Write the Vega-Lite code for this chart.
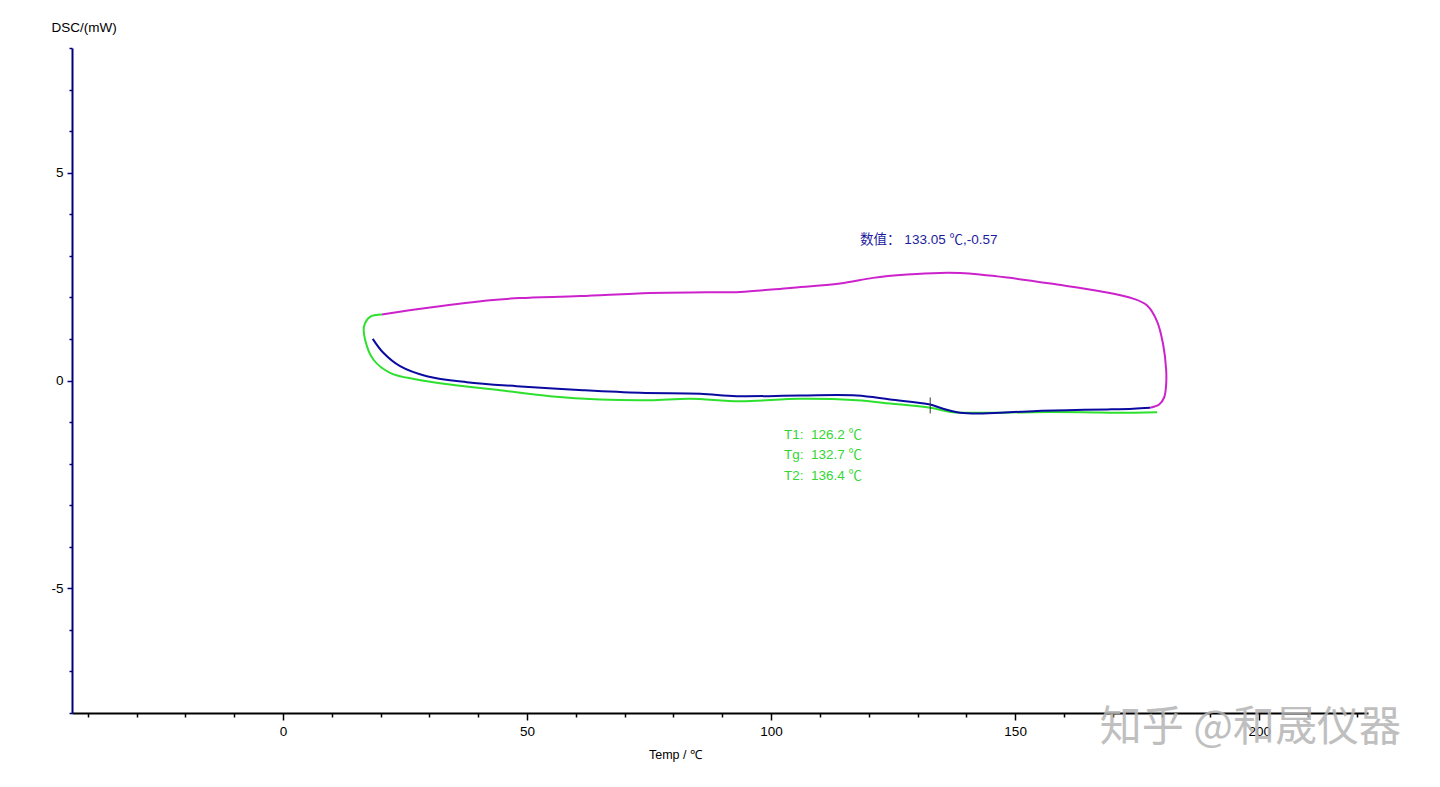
{
  "$schema": "https://vega.github.io/schema/vega-lite/v6.json",
  "width": 1296,
  "height": 665,
  "autosize": {"type": "none"},
  "padding": {"left": 72, "top": 48, "right": 72, "bottom": 74},
  "background": "white",
  "config": {
    "view": {"stroke": null},
    "font": "Liberation Sans"
  },
  "datasets": {
    "curves": [
      {"s": "magenta", "i": 0, "t": 20.23, "v": 1.587},
      {"s": "magenta", "i": 1, "t": 30.12, "v": 1.755},
      {"s": "magenta", "i": 2, "t": 42.42, "v": 1.93},
      {"s": "magenta", "i": 3, "t": 48.57, "v": 1.983},
      {"s": "magenta", "i": 4, "t": 60.86, "v": 2.031},
      {"s": "magenta", "i": 5, "t": 75.2, "v": 2.108},
      {"s": "magenta", "i": 6, "t": 86.89, "v": 2.123},
      {"s": "magenta", "i": 7, "t": 93.65, "v": 2.132},
      {"s": "magenta", "i": 8, "t": 103.89, "v": 2.228},
      {"s": "magenta", "i": 9, "t": 114.14, "v": 2.332},
      {"s": "magenta", "i": 10, "t": 120.9, "v": 2.469},
      {"s": "magenta", "i": 11, "t": 127.87, "v": 2.548},
      {"s": "magenta", "i": 12, "t": 134.63, "v": 2.589},
      {"s": "magenta", "i": 13, "t": 138.73, "v": 2.584},
      {"s": "magenta", "i": 14, "t": 148.36, "v": 2.476},
      {"s": "magenta", "i": 15, "t": 158.61, "v": 2.308},
      {"s": "magenta", "i": 16, "t": 167.42, "v": 2.147},
      {"s": "magenta", "i": 17, "t": 174.18, "v": 1.971},
      {"s": "magenta", "i": 18, "t": 177.05, "v": 1.803},
      {"s": "magenta", "i": 19, "t": 179.1, "v": 1.418},
      {"s": "magenta", "i": 20, "t": 180.33, "v": 0.865},
      {"s": "magenta", "i": 21, "t": 180.94, "v": 0.264},
      {"s": "magenta", "i": 22, "t": 180.94, "v": -0.096},
      {"s": "magenta", "i": 23, "t": 180.53, "v": -0.409},
      {"s": "magenta", "i": 24, "t": 179.51, "v": -0.577},
      {"s": "magenta", "i": 25, "t": 177.66, "v": -0.656},
      {"s": "green", "i": 0, "t": 20.23, "v": 1.587},
      {"s": "green", "i": 1, "t": 17.83, "v": 1.531},
      {"s": "green", "i": 2, "t": 16.6, "v": 1.305},
      {"s": "green", "i": 3, "t": 16.8, "v": 0.986},
      {"s": "green", "i": 4, "t": 18.5, "v": 0.505},
      {"s": "green", "i": 5, "t": 21.93, "v": 0.185},
      {"s": "green", "i": 6, "t": 27.4, "v": 0.024},
      {"s": "green", "i": 7, "t": 34.22, "v": -0.096},
      {"s": "green", "i": 8, "t": 44.47, "v": -0.233},
      {"s": "green", "i": 9, "t": 54.71, "v": -0.377},
      {"s": "green", "i": 10, "t": 64.96, "v": -0.457},
      {"s": "green", "i": 11, "t": 75.2, "v": -0.474},
      {"s": "green", "i": 12, "t": 83.4, "v": -0.44},
      {"s": "green", "i": 13, "t": 93.65, "v": -0.498},
      {"s": "green", "i": 14, "t": 105.94, "v": -0.44},
      {"s": "green", "i": 15, "t": 117.56, "v": -0.474},
      {"s": "green", "i": 16, "t": 124.39, "v": -0.553},
      {"s": "green", "i": 17, "t": 132.58, "v": -0.656},
      {"s": "green", "i": 18, "t": 137.3, "v": -0.762},
      {"s": "green", "i": 19, "t": 143.44, "v": -0.776},
      {"s": "green", "i": 20, "t": 153.69, "v": -0.762},
      {"s": "green", "i": 21, "t": 163.93, "v": -0.762},
      {"s": "green", "i": 22, "t": 170.9, "v": -0.776},
      {"s": "green", "i": 23, "t": 179.1, "v": -0.762},
      {"s": "blue", "i": 0, "t": 18.38, "v": 1.002},
      {"s": "blue", "i": 1, "t": 20.55, "v": 0.666},
      {"s": "blue", "i": 2, "t": 23.98, "v": 0.344},
      {"s": "blue", "i": 3, "t": 29.45, "v": 0.103},
      {"s": "blue", "i": 4, "t": 37.64, "v": -0.041},
      {"s": "blue", "i": 5, "t": 47.89, "v": -0.137},
      {"s": "blue", "i": 6, "t": 61.48, "v": -0.233},
      {"s": "blue", "i": 7, "t": 73.16, "v": -0.296},
      {"s": "blue", "i": 8, "t": 85.45, "v": -0.32},
      {"s": "blue", "i": 9, "t": 92.97, "v": -0.377},
      {"s": "blue", "i": 10, "t": 105.94, "v": -0.361},
      {"s": "blue", "i": 11, "t": 117.56, "v": -0.361},
      {"s": "blue", "i": 12, "t": 124.39, "v": -0.457},
      {"s": "blue", "i": 13, "t": 132.58, "v": -0.577},
      {"s": "blue", "i": 14, "t": 135.25, "v": -0.68},
      {"s": "blue", "i": 15, "t": 138.73, "v": -0.776},
      {"s": "blue", "i": 16, "t": 143.44, "v": -0.793},
      {"s": "blue", "i": 17, "t": 146.93, "v": -0.776},
      {"s": "blue", "i": 18, "t": 153.69, "v": -0.738},
      {"s": "blue", "i": 19, "t": 160.66, "v": -0.714},
      {"s": "blue", "i": 20, "t": 168.85, "v": -0.697},
      {"s": "blue", "i": 21, "t": 174.18, "v": -0.68},
      {"s": "blue", "i": 22, "t": 177.66, "v": -0.656}
    ],
    "marker": [{"t": 132.6, "v1": -0.409, "v2": -0.793}],
    "labels": [
      {"kind": "blue", "t": 118.24, "v": 3.39, "text": "数值： 133.05 ℃,-0.57"},
      {"kind": "green", "t": 102.66, "v": -1.322, "text": "T1:\u00a0\u00a0126.2 ℃"},
      {"kind": "green", "t": 102.66, "v": -1.803, "text": "Tg:\u00a0\u00a0132.7 ℃"},
      {"kind": "green", "t": 102.66, "v": -2.308, "text": "T2:\u00a0\u00a0136.4 ℃"}
    ],
    "watermark": [{"t": 198.2, "v": -8.37, "text": "知乎 @和晟仪器"}]
  },
  "layer": [
    {
      "data": {"name": "curves"},
      "mark": {"type": "line", "strokeWidth": 2, "clip": false, "interpolate": "catmull-rom"},
      "encoding": {
        "x": {
          "field": "t", "type": "quantitative",
          "scale": {"domain": [-43.24, 222.3], "nice": false, "zero": false},
          "axis": {
            "title": "Temp / ℃",
            "titleFont": "Liberation Sans",
            "titleFontSize": 12.5,
            "titleFontWeight": "normal",
            "titleColor": "#000000",
            "titleX": 603,
            "titleY": 41,
            "titleAnchor": null,
            "titleAlign": "center",
            "titleBaseline": "middle",
            "values": [-40,-35,-30,-25,-20,-15,-10,-5,0,5,10,15,20,25,30,35,40,45,50,55,60,65,70,75,80,85,90,95,100,105,110,115,120,125,130,135,140,145,150,155,160,165,170,175,180,185,190,195,200,205,210,215,220],
            "labelExpr": "datum.value % 50 === 0 ? datum.label : ''",
            "labelFont": "Liberation Sans",
            "labelFontSize": 13.5,
            "labelColor": "#000000",
            "labelPadding": 4,
            "labelFlush": false,
            "labelOverlap": false,
            "tickSize": {"condition": {"test": "datum.value % 50 === 0", "value": 7}, "value": 4},
            "tickColor": "#000000",
            "tickWidth": 1.5,
            "domainColor": "#000000",
            "domainWidth": 2,
            "grid": false
          }
        },
        "y": {
          "field": "v", "type": "quantitative",
          "scale": {"domain": [-8, 8], "nice": false, "zero": false},
          "axis": {
            "title": "DSC/(mW)",
            "titleFont": "Liberation Sans",
            "titleFontSize": 13.5,
            "titleFontWeight": "normal",
            "titleColor": "#000000",
            "titleAngle": 0,
            "titleAnchor": null,
            "titleX": -21,
            "titleY": -21,
            "titleAlign": "left",
            "titleBaseline": "middle",
            "values": [-8,-7,-6,-5,-4,-3,-2,-1,0,1,2,3,4,5,6,7,8],
            "labelExpr": "datum.value % 5 === 0 ? replace(datum.label, '−', '-') : ''",
            "labelFont": "Liberation Sans",
            "labelFontSize": 13.5,
            "labelColor": "#000000",
            "labelPadding": 4,
            "labelFlush": false,
            "labelOverlap": false,
            "tickSize": {"condition": {"test": "datum.value % 5 === 0", "value": 5}, "value": 3},
            "tickColor": "#00007a",
            "tickWidth": 1.5,
            "domainColor": "#00007a",
            "domainWidth": 2,
            "grid": false
          }
        },
        "order": {"field": "i", "type": "quantitative"},
        "detail": {"field": "s"},
        "color": {
          "field": "s", "type": "nominal",
          "scale": {"domain": ["magenta", "green", "blue"], "range": ["#cc22cc", "#2ee02e", "#0a0aa0"]},
          "legend": null
        }
      }
    },
    {
      "data": {"name": "marker"},
      "mark": {"type": "rule", "color": "#333333", "strokeWidth": 1},
      "encoding": {
        "x": {"field": "t", "type": "quantitative"},
        "y": {"field": "v1", "type": "quantitative"},
        "y2": {"field": "v2"}
      }
    },
    {
      "data": {"name": "labels"},
      "mark": {"type": "text", "align": "left", "baseline": "middle", "fontSize": 13.5, "font": "Liberation Sans, Noto Sans CJK SC"},
      "encoding": {
        "x": {"field": "t", "type": "quantitative"},
        "y": {"field": "v", "type": "quantitative"},
        "text": {"field": "text"},
        "color": {
          "field": "kind", "type": "nominal",
          "scale": {"domain": ["blue", "green"], "range": ["#1c1ca0", "#33d633"]},
          "legend": null
        }
      }
    },
    {
      "data": {"name": "watermark"},
      "mark": {"type": "text", "align": "center", "baseline": "middle", "fontSize": 42, "font": "Noto Sans CJK SC", "color": "#b4b4b4", "opacity": 0.85, "clip": false},
      "encoding": {
        "x": {"field": "t", "type": "quantitative"},
        "y": {"field": "v", "type": "quantitative"},
        "text": {"field": "text"}
      }
    }
  ],
  "resolve": {"scale": {"color": "independent"}}
}
